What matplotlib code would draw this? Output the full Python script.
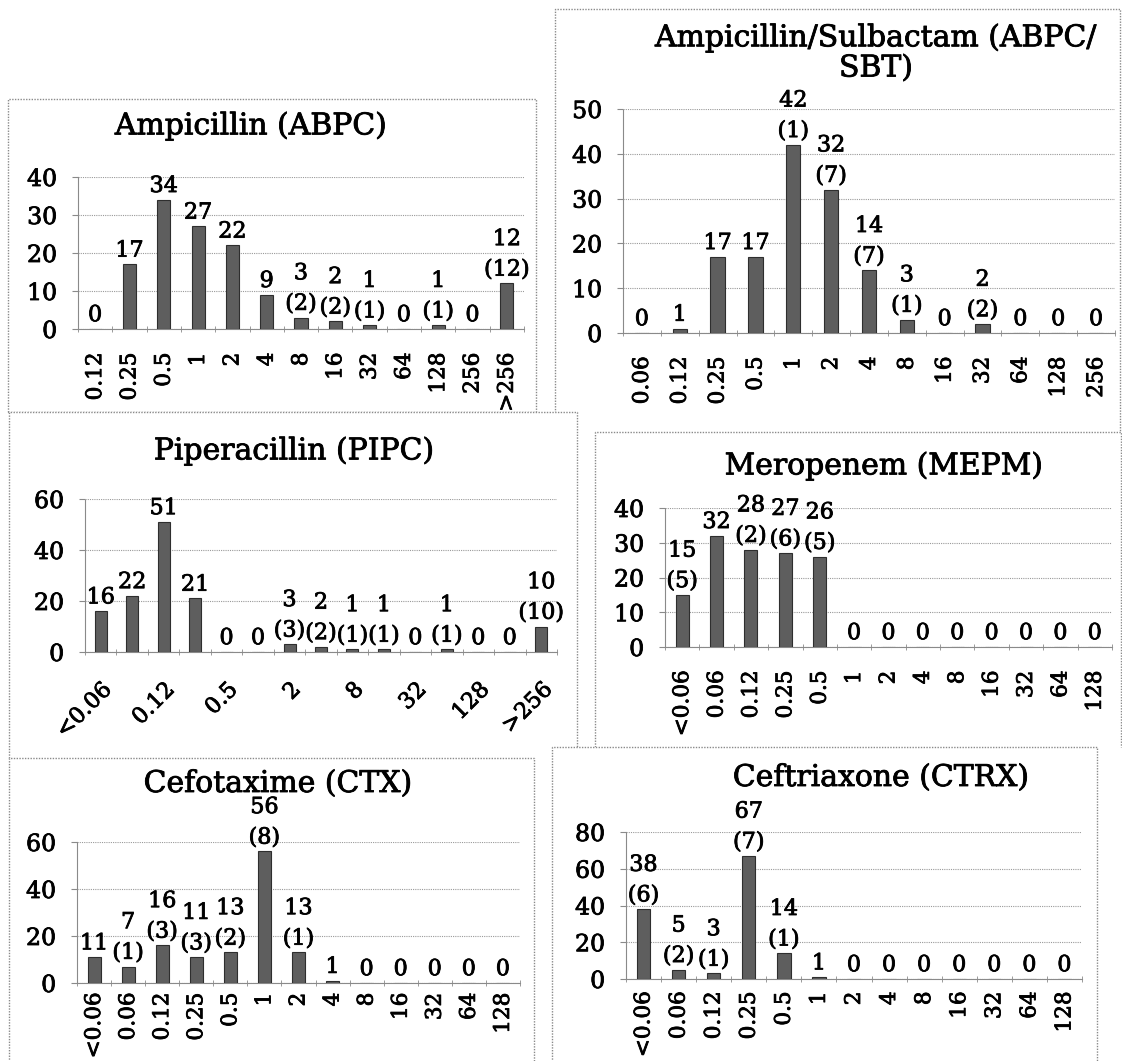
import matplotlib
matplotlib.use("Agg")
import matplotlib.pyplot as plt
import matplotlib.patheffects as pe
from matplotlib.patches import Rectangle
from matplotlib.lines import Line2D
import numpy as np

plt.rcParams['font.family'] = ['DejaVu Serif']

# ---- data (MIC categories, counts, counts in parentheses) ----
abpc_cats = ['0.12', '0.25', '0.5', '1', '2', '4', '8', '16', '32', '64', '128', '256', '>256']
abpc_vals = [0, 17, 34, 27, 22, 9, 3, 2, 1, 0, 1, 0, 12]
abpc_sub = [None, None, None, None, None, None, 2, 2, 1, None, 1, None, 12]

sbt_cats = ['0.06', '0.12', '0.25', '0.5', '1', '2', '4', '8', '16', '32', '64', '128', '256']
sbt_vals = [0, 1, 17, 17, 42, 32, 14, 3, 0, 2, 0, 0, 0]
sbt_sub = [None, None, None, None, 1, 7, 7, 1, None, 2, None, None, None]

pipc_cats = ['<0.06', '0.06', '0.12', '0.25', '0.5', '1', '2', '4', '8', '16', '32', '64', '128', '256', '>256']
pipc_vals = [16, 22, 51, 21, 0, 0, 3, 2, 1, 1, 0, 1, 0, 0, 10]
pipc_sub = [None, None, None, None, None, None, 3, 2, 1, 1, None, 1, None, None, 10]

mepm_cats = ['<0.06', '0.06', '0.12', '0.25', '0.5', '1', '2', '4', '8', '16', '32', '64', '128']
mepm_vals = [15, 32, 28, 27, 26, 0, 0, 0, 0, 0, 0, 0, 0]
mepm_sub = [5, None, 2, 6, 5, None, None, None, None, None, None, None, None]

ctx_cats = ['<0.06', '0.06', '0.12', '0.25', '0.5', '1', '2', '4', '8', '16', '32', '64', '128']
ctx_vals = [11, 7, 16, 11, 13, 56, 13, 1, 0, 0, 0, 0, 0]
ctx_sub = [None, 1, 3, 3, 2, 8, 1, None, None, None, None, None, None]

ctrx_cats = ['<0.06', '0.06', '0.12', '0.25', '0.5', '1', '2', '4', '8', '16', '32', '64', '128']
ctrx_vals = [38, 5, 3, 67, 14, 1, 0, 0, 0, 0, 0, 0, 0]
ctrx_sub = [6, 2, 1, 7, 1, None, None, None, None, None, None, None, None]

W, H = 1122, 1061
fig = plt.figure(figsize=(W / 100, H / 100), dpi=100)
FRAME = '#8a8a8a'
# scanned print looks heavier than plain DejaVu Serif
BOLDISH = [pe.withStroke(linewidth=0.6, foreground='black')]


def box(x0, y0, x1, y1, z, bottom=True):
    # white panel in pixel coords (y from top), dotted frame
    fx = lambda v: v / W
    fy = lambda v: 1 - v / H
    fig.add_artist(Rectangle((fx(x0), fy(y1)), (x1 - x0) / W, (y1 - y0) / H,
                             transform=fig.transFigure, facecolor='white',
                             edgecolor='none', zorder=z))
    xs = [x0, x0, x1, x1]
    ys = [y1, y0, y0, y1]
    if bottom:
        xs.append(x0)
        ys.append(y1)
    fig.add_artist(Line2D([fx(v) for v in xs], [fy(v) for v in ys], transform=fig.transFigure,
                          color=FRAME, linestyle=(0, (1, 1)), linewidth=1.0, zorder=z))


def panel(title, cats, vals, sub, ymax, ystep, plot_px, title_px, frame, z,
          rot=90, every=1, xpad=17, bottom=True):
    box(*frame, z, bottom=bottom)
    l, r, t, b = plot_px
    ax = fig.add_axes([l / W, 1 - b / H, (r - l) / W, (b - t) / H])
    ax.set_zorder(z + 1)
    ax.patch.set_visible(False)
    x = np.arange(len(cats))
    ax.bar(x, vals, width=0.38, color='#5e5e5e', edgecolor='#2e2e2e', linewidth=0.8, zorder=3)
    for i, v in enumerate(vals):
        s = str(v) if sub[i] is None else '%d\n(%d)' % (v, sub[i])
        ax.annotate(s, (i, v), xytext=(0, 2), textcoords='offset points',
                    ha='center', va='bottom', fontsize=16, linespacing=1.5, zorder=4,
                    path_effects=BOLDISH)
    ax.set_xlim(-0.5, len(cats) - 0.5)
    ax.set_ylim(0, ymax)
    ax.set_yticks(np.arange(0, ymax + 1, ystep))
    ax.grid(axis='y', color='#9a9a9a', linestyle=(0, (1, 1)), linewidth=0.8, zorder=0)
    ax.set_axisbelow(True)
    ax.set_xticks(x[::every])
    if rot == 90:
        ax.set_xticklabels(cats[::every], rotation=90, fontsize=15.5)
    else:
        ax.set_xticklabels(cats[::every], rotation=rot, ha='right', rotation_mode='anchor', fontsize=16)
    ax.set_xticks(np.arange(-0.5, len(cats), 1), minor=True)
    ax.tick_params(axis='x', which='major', length=0, pad=xpad)
    ax.tick_params(axis='x', which='minor', length=5, color=FRAME, direction='inout')
    ax.tick_params(axis='y', length=4, color=FRAME, labelsize=17, pad=11)
    for lab in ax.get_xticklabels() + ax.get_yticklabels():
        lab.set_path_effects(BOLDISH)
    for s in ['top', 'right']:
        ax.spines[s].set_visible(False)
    ax.spines['left'].set_color(FRAME)
    ax.spines['left'].set_linestyle((0, (1, 1)))
    ax.spines['bottom'].set_color(FRAME)
    fig.text(title_px[0] / W, 1 - title_px[1] / H, title, ha='center', va='center',
             fontsize=21.5, zorder=z + 1, linespacing=1.1, path_effects=BOLDISH)
    return ax


panel('Ampicillin (ABPC)', abpc_cats, abpc_vals, abpc_sub, 40, 10,
      (78, 524, 177, 329), (251, 126), (8, 99, 536, 412), 2)
panel('Ampicillin/Sulbactam (ABPC/\nSBT)', sbt_cats, sbt_vals, sbt_sub, 50, 10,
      (623, 1115, 109, 333), (876, 53), (555, 9, 1120, 432), 4, bottom=False)
panel('Piperacillin (PIPC)', pipc_cats, pipc_vals, pipc_sub, 60, 20,
      (85, 557, 499, 652), (294, 451), (9, 412, 577, 758), 6, rot=45, every=2, xpad=19,
      bottom=False)
panel('Meropenem (MEPM)', mepm_cats, mepm_vals, mepm_sub, 40, 10,
      (665, 1112, 508, 647), (884, 466), (595, 432, 1121, 747), 8, bottom=False)
panel('Cefotaxime (CTX)', ctx_cats, ctx_vals, ctx_sub, 60, 20,
      (77, 520, 842, 983), (278, 784), (9, 758, 534, 1070), 10, xpad=7)
panel('Ceftriaxone (CTRX)', ctrx_cats, ctrx_vals, ctrx_sub, 80, 20,
      (626, 1082, 832, 979), (881, 778), (552, 747, 1097, 1070), 12, xpad=9)

fig.savefig('out.png', dpi=100)
